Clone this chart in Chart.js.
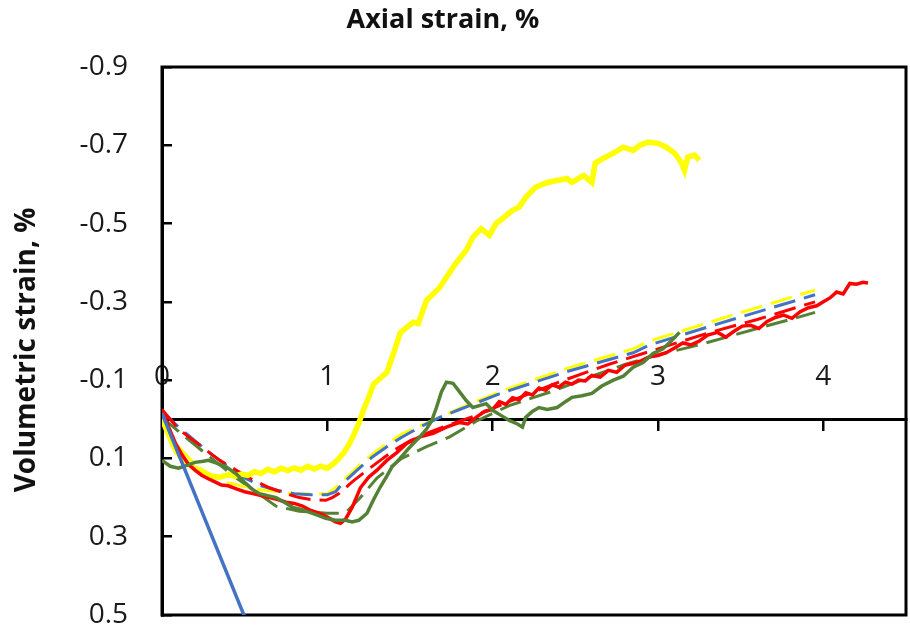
<!DOCTYPE html>
<html>
<head>
<meta charset="utf-8">
<script src="https://cdn.jsdelivr.net/npm/chart.js@4"></script>
<style>
  html, body { margin: 0; padding: 0; background: #fff; }
</style>
</head>
<body>
<canvas id="graph" width="910" height="629"></canvas>
<script>
// axis setup
const xTitle = 'Axial strain, %';
const yTitle = 'Volumetric strain, %';
const xTicks = [0, 1, 2, 3, 4];
const yTicks = [-0.9, -0.7, -0.5, -0.3, -0.1, 0.1, 0.3, 0.5];

// measured curves
const yellowTestX = [0, 0.03, 0.06, 0.09, 0.12, 0.16, 0.2, 0.25, 0.3, 0.35, 0.4, 0.44, 0.48, 0.52, 0.56, 0.6, 0.64, 0.68, 0.72, 0.76, 0.8, 0.84, 0.88, 0.92, 0.96, 1.0, 1.04, 1.07, 1.1, 1.13, 1.16, 1.19, 1.22, 1.25, 1.28, 1.32, 1.36, 1.4, 1.44, 1.48, 1.52, 1.55, 1.6, 1.64, 1.68, 1.72, 1.78, 1.84, 1.88, 1.93, 1.98, 2.02, 2.06, 2.12, 2.16, 2.2, 2.26, 2.33, 2.39, 2.45, 2.48, 2.55, 2.6, 2.62, 2.67, 2.73, 2.79, 2.85, 2.89, 2.94, 3.0, 3.05, 3.1, 3.14, 3.16, 3.18, 3.22, 3.25];
const yellowTestY = [0.0, 0.03, 0.06, 0.085, 0.1, 0.115, 0.125, 0.135, 0.145, 0.148, 0.142, 0.146, 0.14, 0.143, 0.134, 0.138, 0.128, 0.134, 0.125, 0.131, 0.124, 0.13, 0.12, 0.127, 0.12, 0.125, 0.113, 0.1, 0.085, 0.065, 0.04, 0.01, -0.025, -0.056, -0.09, -0.105, -0.12, -0.168, -0.22, -0.235, -0.248, -0.245, -0.304, -0.32, -0.337, -0.363, -0.4, -0.432, -0.465, -0.487, -0.47, -0.5, -0.513, -0.534, -0.542, -0.567, -0.593, -0.605, -0.61, -0.615, -0.605, -0.623, -0.605, -0.654, -0.667, -0.68, -0.695, -0.687, -0.7, -0.708, -0.705, -0.695, -0.68, -0.657, -0.636, -0.67, -0.675, -0.662];

const redTestX = [0, 0.04, 0.08, 0.12, 0.16, 0.2, 0.24, 0.28, 0.32, 0.36, 0.4, 0.45, 0.5, 0.55, 0.6, 0.65, 0.7, 0.75, 0.8, 0.85, 0.9, 0.95, 1.0, 1.05, 1.08, 1.11, 1.15, 1.2, 1.25, 1.3, 1.36, 1.42, 1.48, 1.56, 1.64, 1.72, 1.8, 1.85, 1.9, 1.95, 2.0, 2.04, 2.08, 2.12, 2.16, 2.2, 2.24, 2.28, 2.32, 2.36, 2.4, 2.44, 2.48, 2.52, 2.56, 2.6, 2.65, 2.7, 2.75, 2.8, 2.85, 2.9, 2.95, 3.0, 3.05, 3.1, 3.15, 3.2, 3.25, 3.3, 3.36, 3.41, 3.46, 3.51, 3.56, 3.61, 3.66, 3.71, 3.76, 3.81, 3.86, 3.91, 3.96, 4.0, 4.04, 4.08, 4.12, 4.16, 4.2, 4.24, 4.27];
const redTestY = [-0.025, 0.02, 0.06, 0.09, 0.115, 0.13, 0.143, 0.152, 0.16, 0.168, 0.17, 0.178, 0.185, 0.19, 0.195, 0.2, 0.205, 0.212, 0.215, 0.222, 0.233, 0.24, 0.25, 0.262, 0.266, 0.255, 0.225, 0.175, 0.148, 0.13, 0.105, 0.085, 0.062, 0.045, 0.036, 0.02, 0.008, 0.012, -0.005, -0.02, -0.025, -0.045, -0.038, -0.055, -0.05, -0.068, -0.062, -0.08, -0.074, -0.088, -0.082, -0.095, -0.09, -0.1, -0.098, -0.112, -0.108, -0.125, -0.12, -0.138, -0.143, -0.15, -0.16, -0.163, -0.17, -0.182, -0.195, -0.19, -0.2, -0.215, -0.222, -0.21, -0.225, -0.238, -0.24, -0.232, -0.25, -0.26, -0.266, -0.258, -0.275, -0.285, -0.29, -0.3, -0.31, -0.325, -0.32, -0.347, -0.345, -0.35, -0.348];

const greenTestX = [0, 0.05, 0.1, 0.15, 0.2, 0.25, 0.28, 0.33, 0.39, 0.45, 0.51, 0.55, 0.59, 0.64, 0.69, 0.74, 0.79, 0.84, 0.89, 0.94, 0.99, 1.05, 1.11, 1.15, 1.19, 1.24, 1.28, 1.32, 1.36, 1.39, 1.44, 1.48, 1.52, 1.56, 1.6, 1.63, 1.66, 1.69, 1.72, 1.76, 1.8, 1.84, 1.88, 1.92, 1.96, 2.0, 2.05, 2.1, 2.15, 2.18, 2.2, 2.24, 2.28, 2.33, 2.39, 2.44, 2.48, 2.54, 2.6, 2.66, 2.73, 2.79, 2.85, 2.91, 2.97, 3.03, 3.08, 3.13];
const greenTestY = [0.105, 0.12, 0.125, 0.118, 0.11, 0.107, 0.105, 0.112, 0.122, 0.14, 0.165, 0.18, 0.19, 0.195, 0.2, 0.212, 0.225, 0.23, 0.237, 0.245, 0.253, 0.258, 0.258, 0.262, 0.258, 0.24, 0.205, 0.173, 0.145, 0.122, 0.1, 0.08, 0.062, 0.045, 0.025, 0.005, -0.03, -0.07, -0.095, -0.092, -0.07, -0.048, -0.03, -0.035, -0.04, -0.023, -0.01, 0.003, 0.012, 0.02, -0.005, -0.02, -0.03, -0.025, -0.03, -0.045, -0.056, -0.06, -0.066, -0.085, -0.1, -0.11, -0.133, -0.145, -0.168, -0.18, -0.2, -0.222];

const blueTestX = [0, 0.55];
const blueTestY = [-0.015, 0.557];

// model curves (dashed)
const yellowModelX = [0, 0.1, 0.2, 0.3, 0.4, 0.5, 0.6, 0.7, 0.8, 0.9, 1.0, 1.05, 1.1, 1.2, 1.3, 1.45, 1.64, 1.8, 2.04, 2.45, 2.85, 2.95, 3.45, 3.95];
const yellowModelY = [0.0, 0.07, 0.115, 0.145, 0.162, 0.172, 0.18, 0.185, 0.19, 0.19, 0.19, 0.175, 0.155, 0.115, 0.08, 0.038, 0.002, -0.028, -0.07, -0.13, -0.18, -0.2, -0.266, -0.33];

const blueModelX = [0, 0.1, 0.2, 0.3, 0.4, 0.5, 0.6, 0.7, 0.8, 0.9, 1.0, 1.05, 1.09, 1.18, 1.27, 1.36, 1.45, 1.56, 1.68, 1.8, 2.04, 2.45, 2.85, 2.95, 3.45, 3.95];
const blueModelY = [-0.02, 0.02, 0.055, 0.09, 0.12, 0.15, 0.17, 0.182, 0.19, 0.193, 0.193, 0.185, 0.165, 0.13, 0.097, 0.07, 0.046, 0.02, -0.005, -0.025, -0.065, -0.122, -0.17, -0.19, -0.255, -0.318];

const redModelX = [0, 0.1, 0.24, 0.35, 0.45, 0.55, 0.65, 0.75, 0.83, 0.9, 0.99, 1.03, 1.07, 1.15, 1.24, 1.32, 1.4, 1.5, 1.6, 1.75, 1.9, 2.1, 2.4, 2.7, 3.0, 3.3, 3.6, 3.95];
const redModelY = [-0.025, 0.025, 0.07, 0.105, 0.13, 0.155, 0.175, 0.19, 0.2, 0.205, 0.207, 0.2, 0.19, 0.16, 0.13, 0.105, 0.08, 0.055, 0.036, 0.012, -0.01, -0.045, -0.095, -0.14, -0.18, -0.22, -0.255, -0.3];

const greenModelX = [0, 0.14, 0.3, 0.45, 0.6, 0.69, 0.83, 1.0, 1.07, 1.12, 1.2, 1.3, 1.45, 1.6, 1.74, 1.9, 2.1, 2.35, 2.6, 2.8, 3.0, 3.2, 3.4, 3.6, 3.8, 3.95];
const greenModelY = [-0.005, 0.045, 0.1, 0.15, 0.195, 0.222, 0.235, 0.24, 0.24, 0.235, 0.2, 0.15, 0.1, 0.07, 0.045, 0.005, -0.035, -0.07, -0.11, -0.14, -0.165, -0.185, -0.208, -0.232, -0.255, -0.273];

const FONT = '"Open Sans", "Liberation Sans", sans-serif';
const DASH = [22, 9];

function pts(xs, ys) {
    return xs.map((x, i) => ({x: x, y: ys[i]}));
}

// frame round the plot area
const frame = {
    id: 'frame',
    beforeDatasetsDraw(chart) {
        const {ctx, chartArea: a} = chart;
        ctx.save();
        ctx.strokeStyle = '#000';
        ctx.lineWidth = 3;
        ctx.strokeRect(a.left, a.top, a.right - a.left, a.bottom - a.top);
        ctx.restore();
    }
};

// axis titles: one above the plot, one rotated on the left
const axisTitles = {
    id: 'axisTitles',
    afterDraw(chart) {
        const ctx = chart.ctx;
        ctx.save();
        ctx.font = 'bold 27px ' + FONT;
        ctx.fillStyle = '#111';
        ctx.textAlign = 'center';
        ctx.textBaseline = 'middle';
        ctx.fillText(xTitle, 443, 20);
        ctx.font = 'bold 28px ' + FONT;
        ctx.translate(27, 350);
        ctx.rotate(-Math.PI / 2);
        ctx.fillText(yTitle, 0, 0);
        ctx.restore();
    }
};

const ctx = document.getElementById('graph').getContext('2d');
const chart = new Chart(ctx, {
    type: 'scatter',
    data: {
        datasets: [
            {data: pts(blueTestX, blueTestY), borderColor: '#4472C4', borderWidth: 3.5},
            {data: pts(greenTestX, greenTestY), borderColor: '#548235', borderWidth: 3.5},
            {data: pts(redTestX, redTestY), borderColor: '#FF0000', borderWidth: 3.5},
            {data: pts(yellowTestX, yellowTestY), borderColor: '#FFFF00', borderWidth: 5.5},
            {data: pts(redModelX, redModelY), borderColor: '#FF0000', borderWidth: 3, borderDash: DASH},
            {data: pts(blueModelX, blueModelY), borderColor: '#4472C4', borderWidth: 3, borderDash: DASH},
            {data: pts(yellowModelX, yellowModelY), borderColor: '#FFFF00', borderWidth: 3, borderDash: DASH},
            {data: pts(greenModelX, greenModelY), borderColor: '#548235', borderWidth: 3, borderDash: DASH}
        ]
    },
    options: {
        responsive: false,
        animation: false,
        devicePixelRatio: 1,
        showLine: true,
        elements: {point: {radius: 0}, line: {fill: false, tension: 0}},
        layout: {padding: {left: 0, top: 67, right: 4, bottom: 14}},
        plugins: {legend: {display: false}, tooltip: {enabled: false}},
        scales: {
            x: {
                type: 'linear',
                min: 0,
                max: 4.5,
                position: {y: 0},
                afterBuildTicks: s => { s.ticks = xTicks.map(v => ({value: v})); },
                afterFit: s => { s.paddingLeft = 0; s.paddingRight = 0; },
                grid: {drawOnChartArea: false, color: '#000', lineWidth: 2.5, tickLength: 10},
                border: {color: '#000', width: 3},
                ticks: {padding: -69, maxRotation: 0, autoSkip: false, color: '#1a1a1a', font: {family: FONT, size: 28}}
            },
            y: {
                type: 'linear',
                min: -0.9,
                max: 0.5,
                reverse: true,
                afterBuildTicks: s => { s.ticks = yTicks.map(v => ({value: v})); },
                afterFit: s => { s.width = 162; s.paddingTop = 0; s.paddingBottom = 0; },
                grid: {drawOnChartArea: false, color: '#000', lineWidth: 2.5, tickLength: -10},
                border: {color: '#000', width: 3},
                ticks: {padding: 44, color: '#1a1a1a', font: {family: FONT, size: 28}, callback: v => v.toFixed(1)}
            }
        }
    },
    plugins: [frame, axisTitles]
});
</script>
</body>
</html>
